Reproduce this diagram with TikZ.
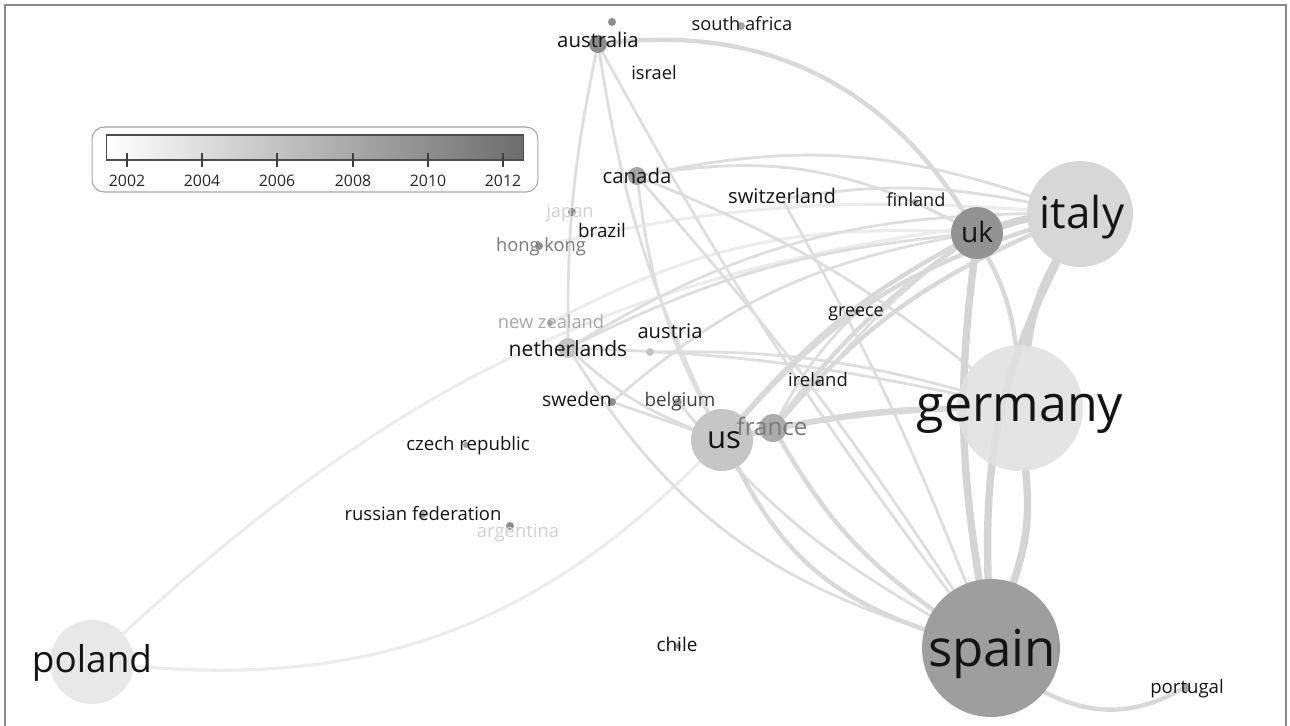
\documentclass[tikz,border=0pt]{standalone}
\usepackage{fontspec}
\setmainfont{Open Sans}
\usetikzlibrary{backgrounds}
\definecolor{cSpain}{HTML}{9E9E9E}
\definecolor{cGermany}{HTML}{E1E1E1}
\definecolor{cItaly}{HTML}{D5D5D5}
\definecolor{cUK}{HTML}{929292}
\definecolor{cUS}{HTML}{C6C6C6}
\definecolor{cFrance}{HTML}{ABABAB}
\definecolor{cPoland}{HTML}{E8E8E8}
\definecolor{cMid}{HTML}{A4A4A4}
\definecolor{cDot}{HTML}{8E8E8E}
\definecolor{cLight}{HTML}{C4C4C4}
\definecolor{eA}{HTML}{D4D4D4}
\definecolor{eB}{HTML}{D9D9D9}
\definecolor{eC}{HTML}{DEDEDE}
\definecolor{eF}{HTML}{ECECEC}
\definecolor{frameC}{HTML}{8A8A8A}
\definecolor{barEnd}{HTML}{6C6C6C}
\definecolor{txtGray}{HTML}{7A7A7A}
\definecolor{txtLight}{HTML}{A6A6A6}
\definecolor{txtFaint}{HTML}{D0D0D0}
\newcommand{\setfs}[1]{\fontsize{#1}{#1}\selectfont}
\begin{document}
\begin{tikzpicture}[x=0.02cm,y=-0.02cm,
  bub/.style={circle,inner sep=0pt,draw=none},
  sdot/.style={circle,inner sep=0pt,minimum size=0.16cm,fill=#1},
  sdot/.default=cDot,
  lbl/.style={anchor=base,inner sep=0pt,text=black!92},
  lnkA/.style={draw=eA,line width=4.2pt,line cap=round},
  lnkB/.style={draw=eB,line width=2.5pt,line cap=round},
  lnkC/.style={draw=eC,line width=1.6pt,line cap=round},
  lnkF/.style={draw=eF,line width=1.8pt,line cap=round},
  frm/.style={draw=frameC,line width=1.2pt},
  tick/.style={draw=black!75,line width=0.6pt},
  yr/.style={inner sep=0pt,text=black!85,font=\setfs{9}}]
\useasboundingbox (0,0) rectangle (1290,726);
\draw[frm] (5,726) -- (5,5) -- (1286,5) -- (1286,726);

% ---- bubbles ----
\node[bub,minimum size=2.76cm,fill=cSpain] (spain) at (991,648) {};
\node[bub,minimum size=2.52cm,fill=cGermany,fill opacity=0.9] (germany) at (1020,408) {};
\node[bub,minimum size=2.12cm,fill=cItaly,fill opacity=0.95] (italy) at (1080,214) {};
\node[bub,minimum size=1.68cm,fill=cPoland] (poland) at (92,662) {};
\node[bub,minimum size=1.24cm,fill=cUS] (us) at (722,440) {};
\node[bub,minimum size=1.04cm,fill=cUK] (uk) at (977,233) {};
\node[bub,minimum size=0.56cm,fill=cFrance] (france) at (773,428) {};
\node[bub,minimum size=0.36cm,fill=cMid] (canada) at (637,176) {};
\node[bub,minimum size=0.36cm,fill=cDot] (australia) at (598,44) {};
\node[bub,minimum size=0.40cm,fill=cLight] (netherlands) at (568,348) {};
% ---- small dots ----
\node[sdot] (extra) at (612,22) {};
\node[sdot=cMid] (southafrica) at (741,26) {};
\node[sdot=white,minimum size=0.06cm] (israel) at (654,76) {};
\node[sdot=white,minimum size=0.06cm] (switzerland) at (782,199) {};
\node[sdot=cMid,minimum size=0.12cm] (finland) at (915,202) {};
\node[sdot] (japan) at (572,212) {};
\node[sdot=white,minimum size=0.06cm] (brazil) at (600,234) {};
\node[sdot] (hongkong) at (539,246) {};
\node[sdot=cMid,minimum size=0.12cm] (greece) at (857,312) {};
\node[sdot=cMid,minimum size=0.12cm] (newzealand) at (550,323) {};
\node[sdot=cLight] (austria) at (650,352) {};
\node[sdot=cMid,minimum size=0.12cm] (ireland) at (818,382) {};
\node[sdot] (sweden) at (612,402) {};
\node[sdot=cMid] (belgium) at (678,402) {};
\node[sdot=cMid,minimum size=0.12cm] (czech) at (466,445) {};
\node[sdot=cMid,minimum size=0.12cm] (russia) at (423,515) {};
\node[sdot] (argentina) at (510,526) {};
\node[sdot=cMid,minimum size=0.12cm] (chile) at (678,646) {};
\node[sdot=cMid,minimum size=0.18cm] (portugal) at (1186,688) {};

% ---- connectors ----
\begin{pgfonlayer}{background}
\draw[lnkF] (poland) to[bend left=18] (italy);
\draw[lnkF] (poland) to[bend right=25] (us);
\draw[lnkF] (hongkong) to[bend left=8] (italy);
\draw[lnkF] (newzealand) to[bend left=15] (uk);
\draw[lnkC] (australia) to[bend right=8] (us);
\draw[lnkC] (australia) to[bend right=4] (spain);
\draw[lnkC] (australia) to[bend right=6] (netherlands);
\draw[lnkC] (canada) to[bend right=10] (us);
\draw[lnkC] (canada) to[bend left=4] (spain);
\draw[lnkC] (canada) to[bend left=8] (germany);
\draw[lnkC] (canada) to[bend left=18] (uk);
\draw[lnkC] (canada) to[bend left=15] (italy);
\draw[lnkC] (netherlands) to[bend left=15] (italy);
\draw[lnkC] (netherlands) to[bend left=10] (uk);
\draw[lnkC] (netherlands) to[bend left=5] (germany);
\draw[lnkC] (netherlands) to[bend right=20] (spain);
\draw[lnkC] (netherlands) to[bend right=10] (us);
\draw[lnkC] (sweden) to (us);
\draw[lnkC] (sweden) to[bend left=15] (uk);
\draw[lnkC] (belgium) to[bend right=10] (spain);
\draw[lnkC] (switzerland) to[bend left=4] (spain);
\draw[lnkC] (switzerland) to[bend left=10] (italy);
\draw[lnkC] (greece) to[bend right=8] (france);
\draw[lnkC] (ireland) to[bend left=6] (uk);
\draw[lnkC] (finland) to (uk);
\draw[lnkC] (austria) to[bend left=8] (germany);
\draw[lnkB] (australia) to[bend left=32] (uk);
\draw[lnkB] (us) to[bend right=22] (spain);
\draw[lnkB] (france) to[bend right=12] (spain);
\draw[lnkB] (us) to[bend left=10] (uk);
\draw[lnkB] (france) to[bend left=8] (uk);
\draw[lnkB] (us) to[bend left=5] (germany);
\draw[lnkB] (france) to[bend left=5] (germany);
\draw[lnkB] (us) to[bend left=15] (italy);
\draw[lnkB] (france) to[bend left=12] (italy);
\draw[lnkB] (us) to (france);
\draw[lnkB] (uk) to[bend left=10] (germany);
\draw[lnkB] (spain) to[bend right=28] (portugal);
\draw[lnkA] (italy) to[bend right=10] (germany);
\draw[lnkA] (italy) to[bend right=14] (spain);
\draw[lnkA] (uk) to[bend right=8] (spain);
\draw[lnkA] (germany) to[bend left=12] (spain);
\draw[lnkA] (uk) to[bend left=5] (italy);
\end{pgfonlayer}

% ---- labels ----
\node[lbl,font=\setfs{29}] (spainL) at (992,666) {spain};
\node[lbl,font=\setfs{28.5}] (germanyL) at (1020,421) {germany};
\node[lbl,font=\setfs{25}] (italyL) at (1082,228) {italy};
\node[lbl,font=\setfs{21}] (polandL) at (92,672) {poland};
\node[lbl,font=\setfs{17.7}] (usL) at (724,448) {us};
\node[lbl,font=\setfs{16}] (ukL) at (977,242) {uk};
\node[lbl,font=\setfs{13.7},text=txtGray] (franceL) at (772,435) {france};
\node[lbl,font=\setfs{12}] (netherlandsL) at (568,356) {netherlands};
\node[lbl,font=\setfs{11.6}] (australiaL) at (598,48) {australia};
\node[lbl,font=\setfs{11.6}] (canadaL) at (637,184) {canada};
\node[lbl,font=\setfs{11.5}] (switzerlandL) at (782,203) {switzerland};
\node[lbl,font=\setfs{11.5}] (austriaL) at (670,338) {austria};
\node[lbl,font=\setfs{10.4}] (southafricaL) at (742,31) {south africa};
\node[lbl,font=\setfs{10.4}] (israelL) at (654,80) {israel};
\node[lbl,font=\setfs{10.3}] (finlandL) at (916,207) {finland};
\node[lbl,font=\setfs{10.4},text=txtFaint] (japanL) at (570,217) {japan};
\node[lbl,font=\setfs{10.7}] (brazilL) at (602,237) {brazil};
\node[lbl,font=\setfs{10.4},text=txtGray] (hongkongL) at (541,251) {hong kong};
\node[lbl,font=\setfs{10.2}] (greeceL) at (856,316) {greece};
\node[lbl,font=\setfs{10.4},text=txtLight] (newzealandL) at (551,328) {new zealand};
\node[lbl,font=\setfs{10.5}] (irelandL) at (818,386) {ireland};
\node[lbl,font=\setfs{11}] (swedenL) at (577,406) {sweden};
\node[lbl,font=\setfs{10.7},text=black!75] (belgiumL) at (680,406) {belgium};
\node[lbl,font=\setfs{10.6}] (czechL) at (468,450) {czech republic};
\node[lbl,font=\setfs{10.5}] (russiaL) at (423,520) {russian federation};
\node[lbl,font=\setfs{10.5},text=txtFaint] (argentinaL) at (518,537) {argentina};
\node[lbl,font=\setfs{10.8}] (chileL) at (677,651) {chile};
\node[lbl,font=\setfs{10.6}] (portugalL) at (1187,693) {portugal};

% ---- legend ----
\node[draw=black!35,line width=0.6pt,rounded corners=0.24cm,fill=white,
      minimum width=8.92cm,minimum height=1.30cm,inner sep=0pt] (legend) at (315,159.5) {};
\node[draw=black!70,line width=0.6pt,left color=white,right color=barEnd,
      minimum width=8.36cm,minimum height=0.50cm,inner sep=0pt] (cbar) at (315,147.5) {};
\foreach \x/\t in {127/2002,202/2004,277/2006,353/2008,428/2010,503/2012}{
  \draw[tick] (\x,153) -- (\x,167);
  \node[yr] (y\t) at (\x,181) {\t};
}
\end{tikzpicture}
\end{document}
